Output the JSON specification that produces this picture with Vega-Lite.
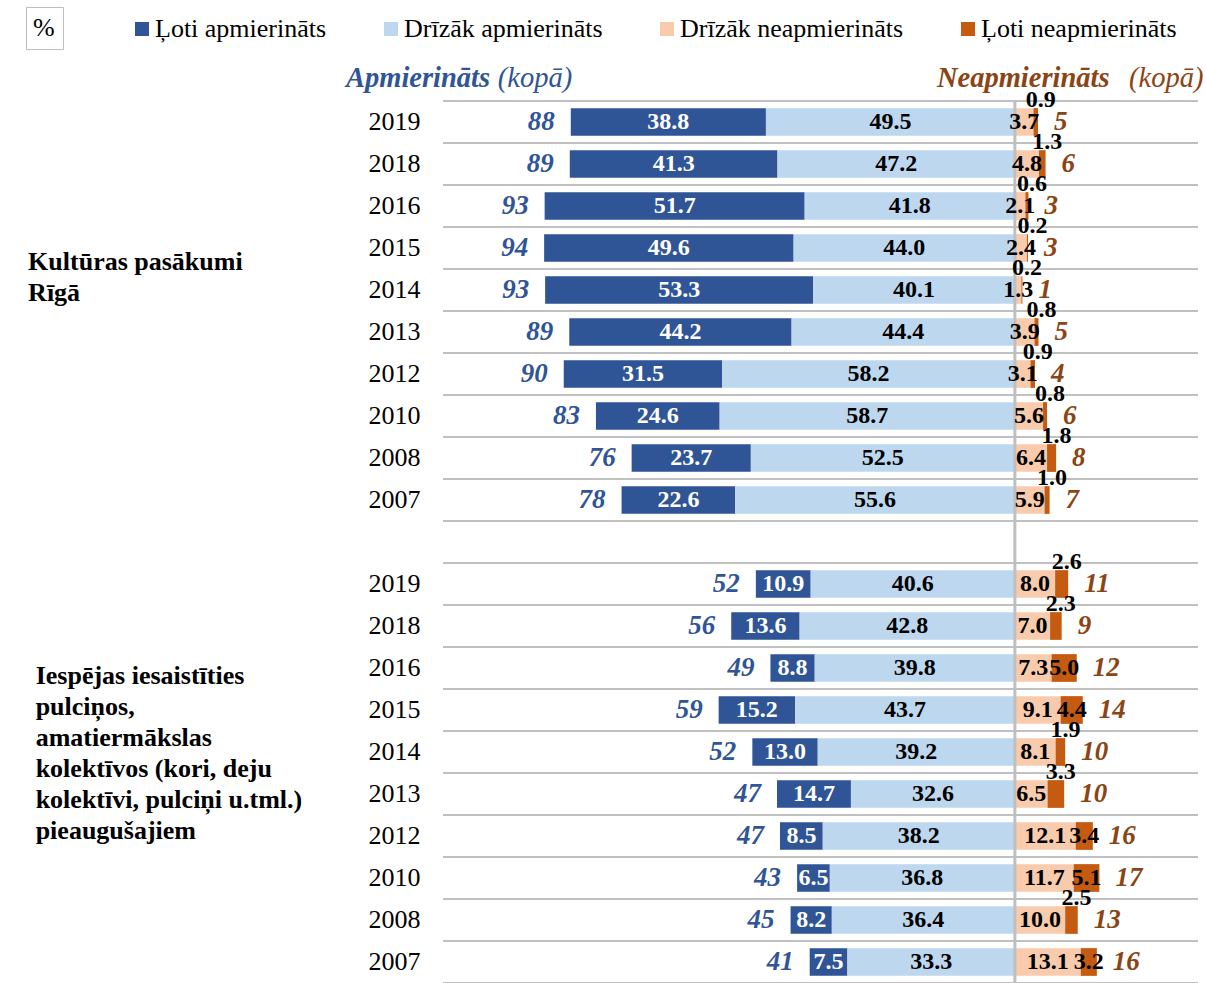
{
  "$schema": "https://vega.github.io/schema/vega-lite/v6.json",
  "width": 1197,
  "height": 924,
  "autosize": {"type": "none"},
  "padding": {"left": 9, "top": 59, "right": 0, "bottom": 0},
  "background": "white",
  "config": {"view": {"stroke": null}, "font": "Liberation Serif"},
  "data": {"values": [
    {"row": "A2019", "year": "2019", "Ļoti apmierināts": 38.8, "Drīzāk apmierināts": 49.5, "Drīzāk neapmierināts": 3.7, "Ļoti neapmierināts": 0.9, "sat": 88, "dis": 5},
    {"row": "A2018", "year": "2018", "Ļoti apmierināts": 41.3, "Drīzāk apmierināts": 47.2, "Drīzāk neapmierināts": 4.8, "Ļoti neapmierināts": 1.3, "sat": 89, "dis": 6},
    {"row": "A2016", "year": "2016", "Ļoti apmierināts": 51.7, "Drīzāk apmierināts": 41.8, "Drīzāk neapmierināts": 2.1, "Ļoti neapmierināts": 0.6, "sat": 93, "dis": 3},
    {"row": "A2015", "year": "2015", "Ļoti apmierināts": 49.6, "Drīzāk apmierināts": 44.0, "Drīzāk neapmierināts": 2.4, "Ļoti neapmierināts": 0.2, "sat": 94, "dis": 3},
    {"row": "A2014", "year": "2014", "Ļoti apmierināts": 53.3, "Drīzāk apmierināts": 40.1, "Drīzāk neapmierināts": 1.3, "Ļoti neapmierināts": 0.2, "sat": 93, "dis": 1},
    {"row": "A2013", "year": "2013", "Ļoti apmierināts": 44.2, "Drīzāk apmierināts": 44.4, "Drīzāk neapmierināts": 3.9, "Ļoti neapmierināts": 0.8, "sat": 89, "dis": 5},
    {"row": "A2012", "year": "2012", "Ļoti apmierināts": 31.5, "Drīzāk apmierināts": 58.2, "Drīzāk neapmierināts": 3.1, "Ļoti neapmierināts": 0.9, "sat": 90, "dis": 4},
    {"row": "A2010", "year": "2010", "Ļoti apmierināts": 24.6, "Drīzāk apmierināts": 58.7, "Drīzāk neapmierināts": 5.6, "Ļoti neapmierināts": 0.8, "sat": 83, "dis": 6},
    {"row": "A2008", "year": "2008", "Ļoti apmierināts": 23.7, "Drīzāk apmierināts": 52.5, "Drīzāk neapmierināts": 6.4, "Ļoti neapmierināts": 1.8, "sat": 76, "dis": 8},
    {"row": "A2007", "year": "2007", "Ļoti apmierināts": 22.6, "Drīzāk apmierināts": 55.6, "Drīzāk neapmierināts": 5.9, "Ļoti neapmierināts": 1.0, "sat": 78, "dis": 7},
    {"row": "B2019", "year": "2019", "Ļoti apmierināts": 10.9, "Drīzāk apmierināts": 40.6, "Drīzāk neapmierināts": 8.0, "Ļoti neapmierināts": 2.6, "sat": 52, "dis": 11},
    {"row": "B2018", "year": "2018", "Ļoti apmierināts": 13.6, "Drīzāk apmierināts": 42.8, "Drīzāk neapmierināts": 7.0, "Ļoti neapmierināts": 2.3, "sat": 56, "dis": 9},
    {"row": "B2016", "year": "2016", "Ļoti apmierināts": 8.8, "Drīzāk apmierināts": 39.8, "Drīzāk neapmierināts": 7.3, "Ļoti neapmierināts": 5.0, "sat": 49, "dis": 12},
    {"row": "B2015", "year": "2015", "Ļoti apmierināts": 15.2, "Drīzāk apmierināts": 43.7, "Drīzāk neapmierināts": 9.1, "Ļoti neapmierināts": 4.4, "sat": 59, "dis": 14},
    {"row": "B2014", "year": "2014", "Ļoti apmierināts": 13.0, "Drīzāk apmierināts": 39.2, "Drīzāk neapmierināts": 8.1, "Ļoti neapmierināts": 1.9, "sat": 52, "dis": 10},
    {"row": "B2013", "year": "2013", "Ļoti apmierināts": 14.7, "Drīzāk apmierināts": 32.6, "Drīzāk neapmierināts": 6.5, "Ļoti neapmierināts": 3.3, "sat": 47, "dis": 10},
    {"row": "B2012", "year": "2012", "Ļoti apmierināts": 8.5, "Drīzāk apmierināts": 38.2, "Drīzāk neapmierināts": 12.1, "Ļoti neapmierināts": 3.4, "sat": 47, "dis": 16},
    {"row": "B2010", "year": "2010", "Ļoti apmierināts": 6.5, "Drīzāk apmierināts": 36.8, "Drīzāk neapmierināts": 11.7, "Ļoti neapmierināts": 5.1, "sat": 43, "dis": 17},
    {"row": "B2008", "year": "2008", "Ļoti apmierināts": 8.2, "Drīzāk apmierināts": 36.4, "Drīzāk neapmierināts": 10.0, "Ļoti neapmierināts": 2.5, "sat": 45, "dis": 13},
    {"row": "B2007", "year": "2007", "Ļoti apmierināts": 7.5, "Drīzāk apmierināts": 33.3, "Drīzāk neapmierināts": 13.1, "Ļoti neapmierināts": 3.2, "sat": 41, "dis": 16}
  ]},
  "resolve": {"scale": {"x": "independent"}},
  "layer": [
    {
      "layer": [
        {
          "transform": [{"fold": ["Ļoti apmierināts", "Drīzāk apmierināts"], "as": ["cat", "v"]}],
          "mark": {"type": "bar", "height": {"band": 0.66}},
          "encoding": {
            "x": {"field": "v", "type": "quantitative", "stack": "zero", "axis": null, "scale": {"domain": [-38, 200], "reverse": true, "nice": false, "zero": false}},
            "y": {"field": "row", "type": "nominal", "axis": null, "scale": {"type": "band", "paddingInner": 0, "paddingOuter": 0, "domain": ["hdr","A2019","A2018","A2016","A2015","A2014","A2013","A2012","A2010","A2008","A2007","gap","B2019","B2018","B2016","B2015","B2014","B2013","B2012","B2010","B2008","B2007"]}},
            "color": {
              "field": "cat", "type": "nominal",
              "scale": {"domain": ["Ļoti apmierināts", "Drīzāk apmierināts", "Drīzāk neapmierināts", "Ļoti neapmierināts"], "range": ["#2F5597", "#BDD7EE", "#F8CBAD", "#C55A11"]},
              "legend": {"title": null, "orient": "none", "legendX": 120, "legendY": -43, "direction": "horizontal", "columns": 4, "symbolType": "square", "symbolSize": 196, "symbolStrokeWidth": 0, "labelFont": "Liberation Serif", "labelFontSize": 26, "labelColor": "black", "labelOffset": 0, "columnPadding": 51, "labelLimit": 0, "padding": 0}
            },
            "order": {"field": "cat", "type": "ordinal"}
          }
        },
        {
          "transform": [{"fold": ["Ļoti apmierināts", "Drīzāk apmierināts"], "as": ["cat", "v"]}],
          "mark": {"type": "text", "font": "Liberation Serif", "fontSize": 24, "fontWeight": "bold", "baseline": "middle", "align": "center"},
          "encoding": {
            "x": {"field": "v", "type": "quantitative", "stack": "zero", "bandPosition": 0.5},
            "y": {"field": "row", "type": "nominal", "axis": null, "scale": {"type": "band", "paddingInner": 0, "paddingOuter": 0, "domain": ["hdr","A2019","A2018","A2016","A2015","A2014","A2013","A2012","A2010","A2008","A2007","gap","B2019","B2018","B2016","B2015","B2014","B2013","B2012","B2010","B2008","B2007"]}},
            "detail": {"field": "cat", "type": "nominal"},
            "order": {"field": "cat", "type": "ordinal"},
            "text": {"field": "v", "type": "quantitative", "format": ".1f"},
            "color": {"condition": {"test": "datum.cat == 'Ļoti apmierināts'", "value": "white"}, "value": "black"}
          }
        },
        {
          "transform": [{"fold": ["Ļoti apmierināts", "Drīzāk apmierināts"], "as": ["cat", "v"]}],
          "mark": {"type": "text", "font": "Liberation Serif", "fontSize": 27, "fontStyle": "italic", "fontWeight": "bold", "baseline": "middle", "align": "right", "dx": -16, "color": "#2F5597"},
          "encoding": {
            "x": {"field": "v", "type": "quantitative", "stack": "zero"},
            "y": {"field": "row", "type": "nominal", "axis": null, "scale": {"type": "band", "paddingInner": 0, "paddingOuter": 0, "domain": ["hdr","A2019","A2018","A2016","A2015","A2014","A2013","A2012","A2010","A2008","A2007","gap","B2019","B2018","B2016","B2015","B2014","B2013","B2012","B2010","B2008","B2007"]}},
            "detail": {"field": "cat", "type": "nominal"},
            "order": {"field": "cat", "type": "ordinal"},
            "text": {"condition": {"test": "datum.cat == 'Ļoti apmierināts'", "field": "sat", "type": "nominal"}, "value": ""}
          }
        }
      ]
    },
    {
      "layer": [
        {
          "mark": {"type": "rule", "color": "#C0C0C0", "strokeWidth": 2},
          "encoding": {
            "x": {"datum": -113.7, "type": "quantitative", "axis": null, "scale": {"domain": [-200, 38], "nice": false, "zero": false}},
            "x2": {"datum": 36.4},
            "y": {"field": "row", "type": "nominal", "bandPosition": 0, "axis": null, "scale": {"type": "band", "paddingInner": 0, "paddingOuter": 0, "domain": ["hdr","A2019","A2018","A2016","A2015","A2014","A2013","A2012","A2010","A2008","A2007","gap","B2019","B2018","B2016","B2015","B2014","B2013","B2012","B2010","B2008","B2007"]}}
          }
        },
        {
          "mark": {"type": "rule", "color": "#C0C0C0", "strokeWidth": 2},
          "encoding": {
            "x": {"datum": -113.7, "type": "quantitative"},
            "x2": {"datum": 36.4},
            "y": {"field": "row", "type": "nominal", "bandPosition": 1, "axis": null, "scale": {"type": "band", "paddingInner": 0, "paddingOuter": 0, "domain": ["hdr","A2019","A2018","A2016","A2015","A2014","A2013","A2012","A2010","A2008","A2007","gap","B2019","B2018","B2016","B2015","B2014","B2013","B2012","B2010","B2008","B2007"]}}
          }
        },
        {
          "transform": [{"fold": ["Drīzāk neapmierināts", "Ļoti neapmierināts"], "as": ["cat", "v"]}],
          "mark": {"type": "bar", "height": {"band": 0.66}},
          "encoding": {
            "x": {"field": "v", "type": "quantitative", "stack": "zero"},
            "y": {"field": "row", "type": "nominal", "axis": null, "scale": {"type": "band", "paddingInner": 0, "paddingOuter": 0, "domain": ["hdr","A2019","A2018","A2016","A2015","A2014","A2013","A2012","A2010","A2008","A2007","gap","B2019","B2018","B2016","B2015","B2014","B2013","B2012","B2010","B2008","B2007"]}},
            "color": {
              "field": "cat", "type": "nominal",
              "scale": {"domain": ["Ļoti apmierināts", "Drīzāk apmierināts", "Drīzāk neapmierināts", "Ļoti neapmierināts"], "range": ["#2F5597", "#BDD7EE", "#F8CBAD", "#C55A11"]},
              "legend": {"title": null, "orient": "none", "legendX": 120, "legendY": -43, "direction": "horizontal", "columns": 4, "symbolType": "square", "symbolSize": 196, "symbolStrokeWidth": 0, "labelFont": "Liberation Serif", "labelFontSize": 26, "labelColor": "black", "labelOffset": 0, "columnPadding": 51, "labelLimit": 0, "padding": 0}
            },
            "order": {"field": "cat", "type": "ordinal"}
          }
        },
        {
          "data": {"values": [
            {"row": "A2019"}, {"row": "A2018"}, {"row": "A2016"}, {"row": "A2015"}, {"row": "A2014"}, {"row": "A2013"}, {"row": "A2012"}, {"row": "A2010"}, {"row": "A2008"}, {"row": "A2007"},
            {"row": "gap"},
            {"row": "B2019"}, {"row": "B2018"}, {"row": "B2016"}, {"row": "B2015"}, {"row": "B2014"}, {"row": "B2013"}, {"row": "B2012"}, {"row": "B2010"}, {"row": "B2008"}, {"row": "B2007"}
          ]},
          "mark": {"type": "bar", "color": "#BFBFBF"},
          "encoding": {
            "x": {"datum": -0.3, "type": "quantitative"},
            "x2": {"datum": 0.3},
            "y": {"field": "row", "type": "nominal", "axis": null, "scale": {"type": "band", "paddingInner": 0, "paddingOuter": 0, "domain": ["hdr","A2019","A2018","A2016","A2015","A2014","A2013","A2012","A2010","A2008","A2007","gap","B2019","B2018","B2016","B2015","B2014","B2013","B2012","B2010","B2008","B2007"]}},
            "strokeDash": {"datum": "%", "legend": {"title": null, "orient": "none", "legendX": 17, "legendY": -52, "symbolSize": 0, "symbolStrokeWidth": 0, "symbolOpacity": 0, "labelOffset": -27, "labelFont": "Liberation Serif", "labelFontSize": 26, "labelColor": "black", "padding": 8, "strokeColor": "#BFBFBF", "fillColor": "white"}}
          }
        },
        {
          "transform": [{"fold": ["Drīzāk neapmierināts", "Ļoti neapmierināts"], "as": ["cat", "v"]}],
          "mark": {"type": "text", "font": "Liberation Serif", "fontSize": 24, "fontWeight": "bold", "baseline": "middle", "align": "center", "color": "black"},
          "encoding": {
            "x": {"field": "v", "type": "quantitative", "stack": "zero", "bandPosition": 0.5},
            "y": {"field": "row", "type": "nominal", "axis": null, "scale": {"type": "band", "paddingInner": 0, "paddingOuter": 0, "domain": ["hdr","A2019","A2018","A2016","A2015","A2014","A2013","A2012","A2010","A2008","A2007","gap","B2019","B2018","B2016","B2015","B2014","B2013","B2012","B2010","B2008","B2007"]}},
            "detail": {"field": "cat", "type": "nominal"},
            "order": {"field": "cat", "type": "ordinal"},
            "text": {"condition": {"test": "datum.cat == 'Drīzāk neapmierināts' || (datum.v >= 3 && datum.row != 'B2013')", "field": "v", "type": "quantitative", "format": ".1f"}, "value": ""}
          }
        },
        {
          "transform": [{"fold": ["Drīzāk neapmierināts", "Ļoti neapmierināts"], "as": ["cat", "v"]}],
          "mark": {"type": "text", "font": "Liberation Serif", "fontSize": 24, "fontWeight": "bold", "baseline": "middle", "align": "center", "color": "black", "dx": 5, "dy": -22},
          "encoding": {
            "x": {"field": "v", "type": "quantitative", "stack": "zero", "bandPosition": 0.5},
            "y": {"field": "row", "type": "nominal", "axis": null, "scale": {"type": "band", "paddingInner": 0, "paddingOuter": 0, "domain": ["hdr","A2019","A2018","A2016","A2015","A2014","A2013","A2012","A2010","A2008","A2007","gap","B2019","B2018","B2016","B2015","B2014","B2013","B2012","B2010","B2008","B2007"]}},
            "detail": {"field": "cat", "type": "nominal"},
            "order": {"field": "cat", "type": "ordinal"},
            "text": {"condition": {"test": "datum.cat == 'Ļoti neapmierināts' && (datum.v < 3 || datum.row == 'B2013')", "field": "v", "type": "quantitative", "format": ".1f"}, "value": ""}
          }
        },
        {
          "transform": [{"fold": ["Drīzāk neapmierināts", "Ļoti neapmierināts"], "as": ["cat", "v"]}],
          "mark": {"type": "text", "font": "Liberation Serif", "fontSize": 27, "fontStyle": "italic", "fontWeight": "bold", "baseline": "middle", "align": "left", "dx": 16, "color": "#8B4514"},
          "encoding": {
            "x": {"field": "v", "type": "quantitative", "stack": "zero"},
            "y": {"field": "row", "type": "nominal", "axis": null, "scale": {"type": "band", "paddingInner": 0, "paddingOuter": 0, "domain": ["hdr","A2019","A2018","A2016","A2015","A2014","A2013","A2012","A2010","A2008","A2007","gap","B2019","B2018","B2016","B2015","B2014","B2013","B2012","B2010","B2008","B2007"]}},
            "detail": {"field": "cat", "type": "nominal"},
            "order": {"field": "cat", "type": "ordinal"},
            "text": {"condition": {"test": "datum.cat == 'Ļoti neapmierināts'", "field": "dis", "type": "nominal"}, "value": ""}
          }
        },
        {
          "mark": {"type": "text", "font": "Liberation Serif", "fontSize": 26, "align": "right", "baseline": "middle", "color": "black"},
          "encoding": {
            "x": {"datum": -118.2, "type": "quantitative"},
            "y": {"field": "row", "type": "nominal", "axis": null, "scale": {"type": "band", "paddingInner": 0, "paddingOuter": 0, "domain": ["hdr","A2019","A2018","A2016","A2015","A2014","A2013","A2012","A2010","A2008","A2007","gap","B2019","B2018","B2016","B2015","B2014","B2013","B2012","B2010","B2008","B2007"]}},
            "text": {"field": "year", "type": "nominal"}
          }
        },
        {
          "data": {"values": [{"row": "A2014", "label": ["Kultūras pasākumi", "Rīgā"]}]},
          "mark": {"type": "text", "font": "Liberation Serif", "fontSize": 26, "fontWeight": "bold", "align": "left", "baseline": "middle", "lineHeight": 31, "color": "black", "dy": -28},
          "encoding": {
            "x": {"datum": -196.2, "type": "quantitative"},
            "y": {"field": "row", "type": "nominal", "axis": null, "scale": {"type": "band", "paddingInner": 0, "paddingOuter": 0, "domain": ["hdr","A2019","A2018","A2016","A2015","A2014","A2013","A2012","A2010","A2008","A2007","gap","B2019","B2018","B2016","B2015","B2014","B2013","B2012","B2010","B2008","B2007"]}},
            "text": {"field": "label", "type": "nominal"}
          }
        },
        {
          "data": {"values": [{"row": "B2014", "label": ["Iespējas iesaistīties", "pulciņos,", "amatiermākslas", "kolektīvos (kori, deju", "kolektīvi, pulciņi u.tml.)", "pieaugušajiem"]}]},
          "mark": {"type": "text", "font": "Liberation Serif", "fontSize": 26, "fontWeight": "bold", "align": "left", "baseline": "middle", "lineHeight": 31, "color": "black", "dy": -76},
          "encoding": {
            "x": {"datum": -194.7, "type": "quantitative"},
            "y": {"field": "row", "type": "nominal", "axis": null, "scale": {"type": "band", "paddingInner": 0, "paddingOuter": 0, "domain": ["hdr","A2019","A2018","A2016","A2015","A2014","A2013","A2012","A2010","A2008","A2007","gap","B2019","B2018","B2016","B2015","B2014","B2013","B2012","B2010","B2008","B2007"]}},
            "text": {"field": "label", "type": "nominal"}
          }
        },
        {
          "data": {"values": [{"row": "hdr", "t": "Apmierināts"}]},
          "mark": {"type": "text", "font": "Liberation Serif", "fontSize": 28.5, "fontStyle": "italic", "fontWeight": "bold", "align": "left", "baseline": "middle", "color": "#2F5597", "dy": -2},
          "encoding": {
            "x": {"datum": -133, "type": "quantitative"},
            "y": {"field": "row", "type": "nominal", "axis": null, "scale": {"type": "band", "paddingInner": 0, "paddingOuter": 0, "domain": ["hdr","A2019","A2018","A2016","A2015","A2014","A2013","A2012","A2010","A2008","A2007","gap","B2019","B2018","B2016","B2015","B2014","B2013","B2012","B2010","B2008","B2007"]}},
            "text": {"field": "t", "type": "nominal"}
          }
        },
        {
          "data": {"values": [{"row": "hdr", "t": "(kopā)"}]},
          "mark": {"type": "text", "font": "Liberation Serif", "fontSize": 28.5, "fontStyle": "italic", "align": "left", "baseline": "middle", "color": "#2F5597", "dy": -2},
          "encoding": {
            "x": {"datum": -102.8, "type": "quantitative"},
            "y": {"field": "row", "type": "nominal", "axis": null, "scale": {"type": "band", "paddingInner": 0, "paddingOuter": 0, "domain": ["hdr","A2019","A2018","A2016","A2015","A2014","A2013","A2012","A2010","A2008","A2007","gap","B2019","B2018","B2016","B2015","B2014","B2013","B2012","B2010","B2008","B2007"]}},
            "text": {"field": "t", "type": "nominal"}
          }
        },
        {
          "data": {"values": [{"row": "hdr", "t": "Neapmierināts"}]},
          "mark": {"type": "text", "font": "Liberation Serif", "fontSize": 28.5, "fontStyle": "italic", "fontWeight": "bold", "align": "left", "baseline": "middle", "color": "#8B4514", "dy": -2},
          "encoding": {
            "x": {"datum": -15.5, "type": "quantitative"},
            "y": {"field": "row", "type": "nominal", "axis": null, "scale": {"type": "band", "paddingInner": 0, "paddingOuter": 0, "domain": ["hdr","A2019","A2018","A2016","A2015","A2014","A2013","A2012","A2010","A2008","A2007","gap","B2019","B2018","B2016","B2015","B2014","B2013","B2012","B2010","B2008","B2007"]}},
            "text": {"field": "t", "type": "nominal"}
          }
        },
        {
          "data": {"values": [{"row": "hdr", "t": "(kopā)"}]},
          "mark": {"type": "text", "font": "Liberation Serif", "fontSize": 28.5, "fontStyle": "italic", "align": "left", "baseline": "middle", "color": "#8B4514", "dy": -2},
          "encoding": {
            "x": {"datum": 22.7, "type": "quantitative"},
            "y": {"field": "row", "type": "nominal", "axis": null, "scale": {"type": "band", "paddingInner": 0, "paddingOuter": 0, "domain": ["hdr","A2019","A2018","A2016","A2015","A2014","A2013","A2012","A2010","A2008","A2007","gap","B2019","B2018","B2016","B2015","B2014","B2013","B2012","B2010","B2008","B2007"]}},
            "text": {"field": "t", "type": "nominal"}
          }
        }
      ]
    }
  ]
}
